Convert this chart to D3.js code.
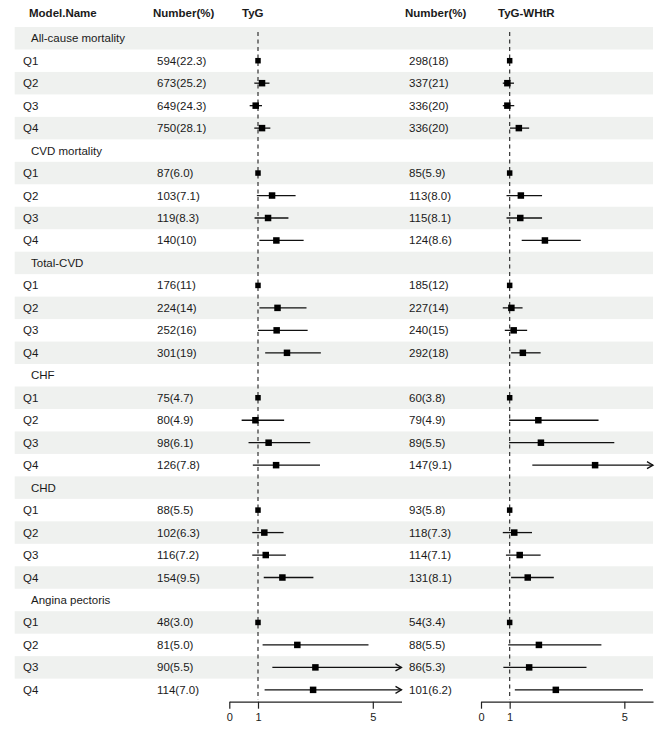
<!DOCTYPE html>
<html>
<head>
<meta charset="utf-8">
<script src="https://cdn.jsdelivr.net/npm/d3@7"></script>
<style>
  body { margin: 0; background: #fff; }
  text { font-family: "Liberation Sans", Arial, sans-serif; fill: #1a1a1a; }
  .hdr { font-weight: bold; }
</style>
</head>
<body>
<svg id="chart" width="669" height="731"></svg>
<script>
// outcomes and quartile rows
var groups = ["All-cause mortality", "CVD mortality", "Total-CVD", "CHF", "CHD", "Angina pectoris"];
var quartiles = ["Q1", "Q2", "Q3", "Q4"];

// events, number(%) per quartile, TyG
var tygN = ["594(22.3)", "673(25.2)", "649(24.3)", "750(28.1)",
            "87(6.0)", "103(7.1)", "119(8.3)", "140(10)",
            "176(11)", "224(14)", "252(16)", "301(19)",
            "75(4.7)", "80(4.9)", "98(6.1)", "126(7.8)",
            "88(5.5)", "102(6.3)", "116(7.2)", "154(9.5)",
            "48(3.0)", "81(5.0)", "90(5.5)", "114(7.0)"];
// TyG-WHtR
var whtrN = ["298(18)", "337(21)", "336(20)", "336(20)",
             "85(5.9)", "113(8.0)", "115(8.1)", "124(8.6)",
             "185(12)", "227(14)", "240(15)", "292(18)",
             "60(3.8)", "79(4.9)", "89(5.5)", "147(9.1)",
             "93(5.8)", "118(7.3)", "114(7.1)", "131(8.1)",
             "54(3.4)", "88(5.5)", "86(5.3)", "101(6.2)"];

// hazard ratios and 95% CI
var tygHR = [1, 1.14, 0.92, 1.14,  1, 1.49, 1.35, 1.64,  1, 1.68, 1.65, 2.01,
             1, 0.91, 1.37, 1.63,  1, 1.22, 1.27, 1.85,  1, 2.37, 3.00, 2.92];
var tygLo = [1, 0.87, 0.71, 0.87,  1, 0.96, 0.88, 1.05,  1, 1.05, 1.00, 1.25,
             1, 0.43, 0.67, 0.82,  1, 0.80, 0.80, 1.20,  1, 1.16, 1.50, 1.23];
var tygHi = [1, 1.40, 1.14, 1.43,  1, 2.31, 2.06, 2.59,  1, 2.69, 2.73, 3.19,
             1, 1.91, 2.82, 3.16,  1, 1.89, 1.97, 2.93,  1, 4.85, 7.50, 7.00];

var whtrHR = [1, 0.92, 0.92, 1.32,  1, 1.39, 1.37, 2.23,  1, 1.06, 1.14, 1.46,
              1, 2.00, 2.09, 3.98,  1, 1.16, 1.35, 1.63,  1, 2.02, 1.68, 2.61];
var whtrLo = [1, 0.76, 0.76, 1.01,  1, 0.89, 0.89, 1.42,  1, 0.76, 0.83, 1.05,
              1, 0.98, 0.98, 1.79,  1, 0.76, 0.87, 1.05,  1, 0.95, 0.78, 1.18];
var whtrHi = [1, 1.15, 1.16, 1.68,  1, 2.13, 2.13, 3.48,  1, 1.45, 1.61, 2.08,
              1, 4.10, 4.65, 8.90,  1, 1.78, 2.08, 2.54,  1, 4.20, 3.68, 5.65];

var xTicks = [0, 1, 5];
var xMax = 6;

// ---- build rows ----
var rows = [];
groups.forEach(function (g, gi) {
    rows.push({ label: g, group: true });
    quartiles.forEach(function (q, qi) {
        var k = gi * 4 + qi;
        rows.push({ label: q, group: false,
            n1: tygN[k], hr1: tygHR[k], lo1: tygLo[k], hi1: tygHi[k],
            n2: whtrN[k], hr2: whtrHR[k], lo2: whtrLo[k], hi2: whtrHi[k] });
    });
});

var svg = d3.select("#chart");
var top0 = 27, rowH = 22.47;
var y = d3.scaleBand()
    .domain(d3.range(rows.length))
    .range([top0, top0 + rowH * rows.length]);

var x1 = d3.scaleLinear().domain([0, xMax]).range([229.3, 401.5]);
var x2 = d3.scaleLinear().domain([0, xMax]).range([481, 653]);
var axisY = 701.7;

// shaded bands
svg.append("g").selectAll("rect")
    .data(rows.filter(function (d, i) { return i % 2 === 0; }))
    .enter().append("rect")
    .attr("x", 14.7)
    .attr("y", function (d) { return y(rows.indexOf(d)); })
    .attr("width", 653 - 14.7)
    .attr("height", y.bandwidth())
    .attr("fill", "#eff1ef");

// headers
var fs = 11.5;
function hdr(t, xx) {
    svg.append("text").attr("class", "hdr").attr("x", xx).attr("y", 16.5)
        .attr("font-size", fs).text(t);
}
hdr("Model.Name", 29);
hdr("Number(%)", 153);
hdr("TyG", 242);
hdr("Number(%)", 405);
hdr("TyG-WHtR", 498);

// row text
var rowG = svg.append("g");
rows.forEach(function (d, i) {
    var cy = y(i) + y.bandwidth() / 2 + 4;
    rowG.append("text").attr("x", d.group ? 31 : 23).attr("y", cy)
        .attr("font-size", fs).text(d.label);
    if (!d.group) {
        rowG.append("text").attr("x", 157).attr("y", cy).attr("font-size", fs).text(d.n1);
        rowG.append("text").attr("x", 409).attr("y", cy).attr("font-size", fs).text(d.n2);
    }
});

function panel(x, key) {
    var g = svg.append("g");
    // reference line
    g.append("line")
        .attr("x1", x(1)).attr("x2", x(1))
        .attr("y1", top0 + 5).attr("y2", axisY - 2)
        .attr("stroke", "#333").attr("stroke-width", 1.2)
        .attr("stroke-dasharray", "4,3.5");

    var data = rows.map(function (d, i) { return { d: d, i: i }; })
        .filter(function (o) { return !o.d.group; });

    data.forEach(function (o) {
        var d = o.d, cy = y(o.i) + y.bandwidth() / 2;
        var hr = d["hr" + key], lo = d["lo" + key], hi = d["hi" + key];
        var over = hi > xMax;
        var xe = x(Math.min(hi, xMax));
        if (hi > lo) {
            g.append("line")
                .attr("x1", x(lo)).attr("x2", xe)
                .attr("y1", cy).attr("y2", cy)
                .attr("stroke", "#111").attr("stroke-width", 1.3);
            if (over) {
                g.append("path")
                    .attr("d", "M" + (xe - 6) + "," + (cy - 3.5) + "L" + xe + "," + cy + "L" + (xe - 6) + "," + (cy + 3.5))
                    .attr("fill", "none").attr("stroke", "#111").attr("stroke-width", 1.3);
            }
        }
        var s = hi > lo ? 6.5 : 5.5;
        g.append("rect")
            .attr("x", x(hr) - s / 2).attr("y", cy - s / 2)
            .attr("width", s).attr("height", s)
            .attr("fill", "#000");
    });

    var axis = d3.axisBottom(x).tickValues(xTicks).tickSize(7).tickSizeOuter(0)
        .tickFormat(d3.format("d"));
    var ag = g.append("g").attr("transform", "translate(0," + axisY + ")").call(axis);
    ag.select(".domain").attr("stroke", "#222").attr("stroke-width", 1.2);
    ag.selectAll(".tick line").attr("stroke", "#222").attr("stroke-width", 1.2);
    ag.selectAll(".tick text")
        .attr("font-family", "Liberation Sans, Arial, sans-serif")
        .attr("font-size", 11).attr("fill", "#333").attr("dy", "0.85em");
}

panel(x1, "1");
panel(x2, "2");
</script>
</body>
</html>
